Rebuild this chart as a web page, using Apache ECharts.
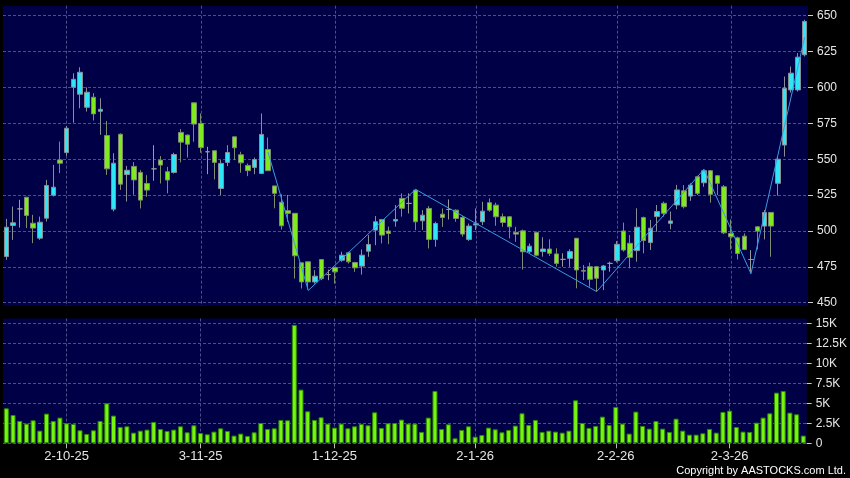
<!DOCTYPE html>
<html><head><meta charset="utf-8">
<script src="https://cdn.jsdelivr.net/npm/echarts@6/dist/echarts.min.js"></script>
<style>html,body{margin:0;padding:0;background:#000;}#c{width:850px;height:478px;}</style>
</head><body><div id="c"></div>
<script>
const dates = ['18-9-25','19-9-25','22-9-25','23-9-25','24-9-25','25-9-25','26-9-25','29-9-25','30-9-25',
'2-10-25','3-10-25','6-10-25','8-10-25','9-10-25','10-10-25','13-10-25','14-10-25','15-10-25','16-10-25','17-10-25','20-10-25','21-10-25','22-10-25','23-10-25','24-10-25','27-10-25','28-10-25','30-10-25','31-10-25',
'3-11-25','4-11-25','5-11-25','6-11-25','7-11-25','10-11-25','11-11-25','12-11-25','13-11-25','14-11-25','17-11-25','18-11-25','19-11-25','20-11-25','21-11-25','24-11-25','25-11-25','26-11-25','27-11-25','28-11-25',
'1-12-25','2-12-25','3-12-25','4-12-25','5-12-25','8-12-25','9-12-25','10-12-25','11-12-25','12-12-25','15-12-25','16-12-25','17-12-25','18-12-25','19-12-25','22-12-25','23-12-25','24-12-25','29-12-25','30-12-25','31-12-25',
'2-1-26','5-1-26','6-1-26','7-1-26','8-1-26','9-1-26','12-1-26','13-1-26','14-1-26','15-1-26','16-1-26','19-1-26','20-1-26','21-1-26','22-1-26','23-1-26','26-1-26','27-1-26','28-1-26','29-1-26','30-1-26',
'2-2-26','3-2-26','4-2-26','5-2-26','6-2-26','9-2-26','10-2-26','11-2-26','12-2-26','13-2-26','16-2-26','20-2-26','23-2-26','24-2-26','25-2-26','26-2-26','27-2-26',
'2-3-26','3-3-26','4-3-26','5-3-26','6-3-26','9-3-26','10-3-26','11-3-26','12-3-26','13-3-26','16-3-26','17-3-26'];

const opens = [482.2,503.8,515.4,523.5,505.4,495.0,508.9,524.9,549.5,554.6,
600.2,595.3,586.2,593.2,583.4,566.5,515.2,567.4,539.3,545.0,
540.8,533.1,543.3,549.4,541.3,540.8,568.7,566.8,589.3,574.9,
555.2,555.9,529.6,547.8,565.6,553.1,545.7,544.3,540.1,556.8,
531.4,520.0,514.1,512.3,477.8,478.5,464.5,480.1,469.6,474.5,
479.6,484.8,478.0,475.5,485.9,500.6,508.0,500.0,506.9,522.7,
519.2,528.5,507.1,515.7,494.1,511.7,515.0,514.5,509.4,494.1,
504.2,506.4,519.7,518.0,509.9,509.9,499.0,500.1,485.5,499.0,
485.6,487.4,484.0,480.2,480.9,494.9,472.5,475.1,475.1,472.8,
477.4,479.3,500.0,491.4,486.3,509.3,491.9,510.0,519.3,505.3,
518.1,528.0,524.3,537.8,533.6,542.0,538.5,530.8,498.3,495.2,
496.4,480.1,502.9,503.4,512.9,533.2,559.9,598.3,598.3,622.8];

const closes = [502.6,505.7,515.4,510.8,502.0,506.1,531.7,530.5,547.2,571.6,
605.7,610.6,596.7,581.6,584.8,543.3,547.2,532.6,542.3,535.6,
521.5,528.5,543.3,545.9,535.5,553.3,561.9,560.5,574.5,558.2,
555.2,547.8,547.1,554.7,558.0,547.5,542.0,549.8,567.3,542.0,
526.2,503.6,512.3,482.7,464.5,464.5,468.5,466.8,469.6,471.5,
483.1,478.5,474.3,483.1,490.6,506.4,497.1,498.3,508.0,515.8,
519.2,506.4,511.0,494.1,505.2,509.4,515.0,508.7,497.8,503.4,
505.0,513.8,514.5,509.9,505.9,502.9,497.8,485.5,489.4,483.1,
487.4,484.4,477.4,480.2,485.6,472.8,472.0,466.3,467.0,475.6,
477.4,490.7,486.7,481.6,502.6,493.3,501.9,513.5,512.3,507.0,
528.6,516.9,532.0,526.2,542.0,525.5,533.2,498.7,495.9,484.3,
487.1,480.1,499.9,512.9,503.4,550.0,599.5,610.0,621.1,646.0];

const lows = [479.9,493.8,502.4,502.0,491.5,493.8,506.6,524.0,540.3,552.3,
575.5,585.5,583.2,577.0,567.0,539.1,513.6,528.6,520.5,525.2,
515.7,523.8,535.0,533.1,526.2,540.0,547.8,551.2,562.2,554.5,
539.6,535.9,525.0,545.2,549.4,540.6,538.2,539.6,539.6,542.0,
515.8,501.0,506.4,466.8,459.9,459.2,463.3,465.7,465.7,463.3,
478.5,477.3,471.5,469.6,482.0,490.1,491.3,490.8,503.0,510.0,
512.2,500.6,500.6,487.8,489.0,502.9,508.0,506.4,496.0,493.1,
500.6,504.1,513.4,503.6,502.9,494.8,492.4,473.1,484.3,482.4,
482.1,482.6,475.1,475.1,475.0,460.0,465.8,461.2,457.7,458.8,
471.6,478.1,485.6,474.0,478.6,484.4,486.7,499.5,510.0,501.2,
515.1,515.7,521.0,525.0,530.8,519.7,525.0,497.8,487.1,480.1,
486.6,470.3,487.1,494.1,482.0,524.6,551.8,596.5,597.2,621.6];

const highs = [508.4,517.0,521.7,523.5,511.2,510.0,535.6,546.0,562.3,573.2,
609.9,614.1,600.0,596.0,592.5,576.7,554.2,568.0,545.4,548.0,
542.4,538.9,559.8,552.2,544.7,554.5,571.0,567.3,589.3,581.9,
558.7,556.4,549.4,559.8,565.6,555.2,547.0,551.2,581.9,565.2,
531.4,525.5,525.1,512.3,477.8,478.5,472.7,480.1,473.0,475.0,
485.5,485.5,478.5,487.1,497.1,510.4,508.0,503.0,518.1,526.2,
526.2,529.0,514.5,517.3,506.4,515.7,522.0,515.0,510.3,505.2,
515.7,520.3,522.7,519.7,512.2,510.3,502.9,501.0,491.3,499.5,
495.6,494.2,487.9,484.4,487.2,494.9,476.3,477.9,475.6,476.3,
478.6,493.0,505.8,497.2,515.8,510.0,507.7,518.1,520.5,513.5,
532.1,532.0,533.2,538.5,543.0,542.5,539.0,532.0,508.0,496.0,
498.3,486.6,503.4,514.6,512.9,551.8,607.6,614.6,624.0,647.2];

const volumes = [4375,3540,2790,2460,2875,1580,3710,2790,3210,2500,
2420,1625,1170,1625,2790,5000,3460,2040,2125,1330,
1580,1710,2670,1790,1540,1710,2125,1375,2250,1290,
1125,1460,1875,1540,960,1210,920,1375,2540,1790,
1875,2920,2875,14800,6710,4000,2920,3250,2460,1960,
2460,1875,2125,2420,2250,3875,1920,2500,2540,2960,
2460,2460,1420,3210,6540,1790,2375,625,1670,2125,
830,1040,1960,1750,1375,1670,2210,3750,2290,2920,
1420,1580,1460,1330,1580,5375,2540,1920,2170,3330,
2290,4540,2460,1210,3960,2170,1830,2790,1830,1420,
3080,1580,1080,1080,1250,1790,1330,3920,4080,2040,
1460,1420,2580,3210,3750,6330,6540,3830,3625,960];

const zigzagDates = ['17-11-25','25-11-25','17-12-25','28-1-26','24-2-26','5-3-26','17-3-26'];
const zigzagValues = [555,458.5,529,457.7,543,470.3,635];

const xTickLabels = ['2-10-25','3-11-25','1-12-25','2-1-26','2-2-26','2-3-26'];
const priceTicks = [450,475,500,525,550,575,600,625,650];
const volumeTicks = [0,2500,5000,7500,10000,12500,15000];

const candleData = dates.map((d,i)=>[opens[i],closes[i],lows[i],highs[i]]);
const zigzagData = zigzagDates.map((d,i)=>[d,zigzagValues[i]]);
const isLabel = (idx,val)=>xTickLabels.indexOf(val)>=0;

const gridLine = {show:true, interval:isLabel, alignWithLabel:true, lineStyle:{color:'#4d4d8c', type:[3,2], width:1}};
const ySplit = {show:true, lineStyle:{color:'#4d4d8c', type:[3,2], width:1}};
const FONT = 'Arial, "Liberation Sans", sans-serif';

const chart = echarts.init(document.getElementById('c'), null, {renderer:'canvas'});
chart.setOption({
  backgroundColor:'#000000',
  animation:false,
  grid:[
    {left:3, right:42, top:5.7, height:300.3, show:true, backgroundColor:'#000046', borderWidth:0},
    {left:3, right:42, top:318.5, height:124.8, show:true, backgroundColor:'#000046', borderWidth:0}
  ],
  xAxis:[
    {type:'category', gridIndex:0, data:dates, boundaryGap:true,
     axisLine:{show:false}, axisTick:{show:false}, axisLabel:{show:false}, splitLine:gridLine},
    {type:'category', gridIndex:1, data:dates, boundaryGap:true,
     axisLine:{show:false},
     axisTick:{show:true, interval:isLabel, alignWithLabel:true, length:5, lineStyle:{color:'#bbbbbb'}},
     axisLabel:{show:true, interval:isLabel, color:'#e6e6e6', fontSize:13, fontFamily:FONT, margin:7},
     splitLine:gridLine}
  ],
  yAxis:[
    {type:'value', gridIndex:0, position:'right', min:447.7, max:657,
     axisLine:{show:false},
     axisTick:{show:true, length:5, customValues:priceTicks, lineStyle:{color:'#cccccc'}},
     axisLabel:{show:true, customValues:priceTicks, color:'#e6e6e6', fontSize:12, fontFamily:FONT, margin:9},
     splitLine:ySplit},
    {type:'value', gridIndex:1, position:'right', min:0, max:15600,
     axisLine:{show:false},
     axisTick:{show:true, length:5, customValues:volumeTicks, lineStyle:{color:'#cccccc'}},
     axisLabel:{show:true, customValues:volumeTicks, color:'#e6e6e6', fontSize:12, fontFamily:FONT, margin:9,
       formatter:v=> v===0 ? '0' : (v/1000)+'K'},
     splitLine:ySplit}
  ],
  series:[
    {type:'candlestick', xAxisIndex:0, yAxisIndex:0, data:candleData, barWidth:5,
     itemStyle:{color:'#2ee6f6', color0:'#7fea1c', borderColor:'#8a8f96', borderColor0:'#7d8c6e', borderColorDoji:'#9a9a9a', borderWidth:1}},
    {type:'line', xAxisIndex:0, yAxisIndex:0, data:zigzagData, symbol:'none',
     lineStyle:{color:'#3b9be0', width:1}, z:5},
    {type:'bar', xAxisIndex:1, yAxisIndex:1, data:volumes, barWidth:5,
     itemStyle:{color:'#77f510', borderColor:'#2e8a00', borderWidth:1}}
  ],
  graphic:[
    {type:'text', right:4, top:465, style:{text:'Copyright by AASTOCKS.com Ltd.', fill:'#ffffff', font:'11px '+FONT}}
  ]
});
</script></body></html>
